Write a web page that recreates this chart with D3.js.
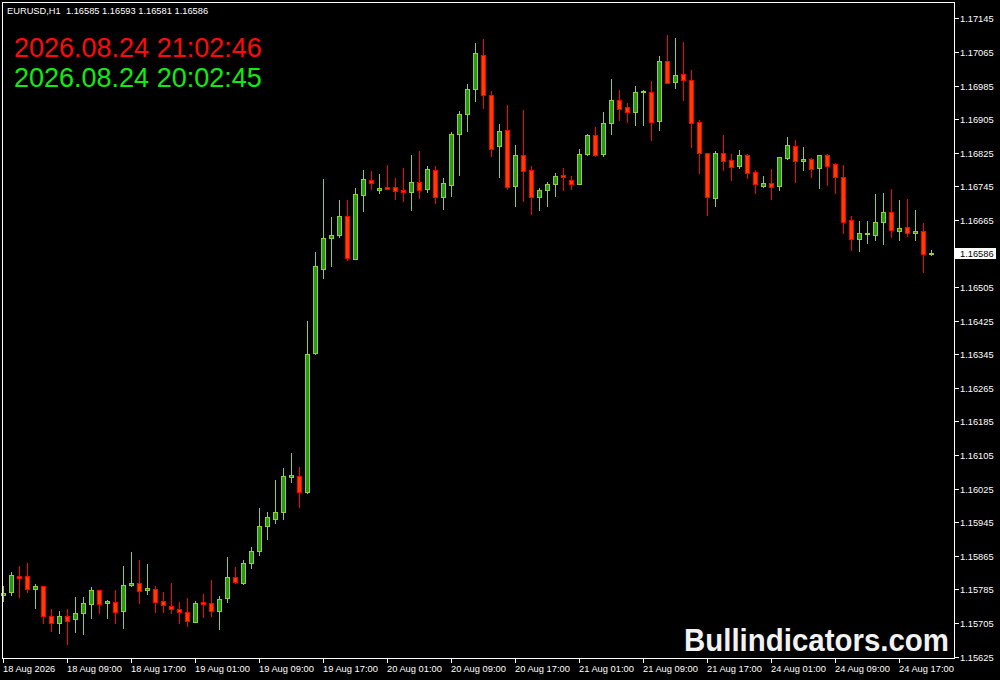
<!DOCTYPE html>
<html><head><meta charset="utf-8">
<script src="https://cdn.jsdelivr.net/npm/d3@7/dist/d3.min.js"></script>
<style>html,body{margin:0;padding:0;background:#000;overflow:hidden}svg{display:block}</style>
</head><body><svg id="c" width="1000" height="680"></svg>
<script>
// ---- data ----
const symbolLabel = "EURUSD,H1";
const headerValues = ["1.16585", "1.16593", "1.16581", "1.16586"];
const clockLines = ["2026.08.24 21:02:46", "2026.08.24 20:02:45"];
const watermark = "Bullindicators.com";
const bidPrice = 1.16586;
const xTickLabels = ["18 Aug 2026","18 Aug 09:00","18 Aug 17:00","19 Aug 01:00","19 Aug 09:00","19 Aug 17:00","20 Aug 01:00","20 Aug 09:00","20 Aug 17:00","21 Aug 01:00","21 Aug 09:00","21 Aug 17:00","24 Aug 01:00","24 Aug 09:00","24 Aug 17:00"];
const barsPerLabel = 8;
const yTickValues = [1.17145,1.17065,1.16985,1.16905,1.16825,1.16745,1.16665,1.16505,1.16425,1.16345,1.16265,1.16185,1.16105,1.16025,1.15945,1.15865,1.15785,1.15705,1.15625];
const opens = [1.15771,1.15778,1.15817,1.15817,1.15785,1.15793,1.15721,1.15705,1.15721,1.15714,1.15728,1.15750,1.15783,1.15752,1.15755,1.15733,1.15795,1.15800,1.15783,1.15785,1.15757,1.15745,1.15738,1.15731,1.15707,1.15755,1.15752,1.15733,1.15764,1.15814,1.15801,1.15847,1.15876,1.15935,1.15954,1.15970,1.16054,1.16055,1.16018,1.16348,1.16549,1.16623,1.16630,1.16674,1.16573,1.16725,1.16761,1.16735,1.16743,1.16743,1.16736,1.16732,1.16755,1.16739,1.16785,1.16719,1.16749,1.16869,1.16916,1.16976,1.17057,1.16962,1.16840,1.16878,1.16745,1.16819,1.16783,1.16720,1.16735,1.16750,1.16771,1.16759,1.16750,1.16823,1.16866,1.16823,1.16895,1.16950,1.16933,1.16921,1.16969,1.16969,1.16900,1.17043,1.16993,1.17012,1.16997,1.16898,1.16824,1.16718,1.16824,1.16807,1.16794,1.16820,1.16778,1.16746,1.16754,1.16746,1.16813,1.16841,1.16806,1.16809,1.16789,1.16820,1.16798,1.16766,1.16664,1.16620,1.16632,1.16630,1.16659,1.16683,1.16639,1.16647,1.16635,1.16639,1.16585];
const highs = [1.15793,1.15827,1.15841,1.15848,1.15797,1.15793,1.15739,1.15734,1.15739,1.15767,1.15767,1.15791,1.15783,1.15760,1.15784,1.15841,1.15874,1.15855,1.15846,1.15793,1.15780,1.15801,1.15755,1.15765,1.15757,1.15774,1.15808,1.15770,1.15862,1.15839,1.15855,1.15886,1.15979,1.15970,1.16046,1.16074,1.16110,1.16077,1.16424,1.16588,1.16762,1.16672,1.16712,1.16712,1.16741,1.16783,1.16781,1.16774,1.16795,1.16764,1.16788,1.16820,1.16829,1.16793,1.16793,1.16765,1.16874,1.16924,1.16989,1.17086,1.17096,1.16972,1.16893,1.16939,1.16843,1.16927,1.16793,1.16741,1.16755,1.16777,1.16789,1.16770,1.16834,1.16870,1.16886,1.16922,1.17001,1.16975,1.16943,1.16984,1.16974,1.16996,1.17055,1.17105,1.17098,1.17089,1.17022,1.16903,1.16824,1.16829,1.16867,1.16822,1.16831,1.16821,1.16784,1.16770,1.16786,1.16814,1.16862,1.16855,1.16839,1.16812,1.16820,1.16822,1.16801,1.16796,1.16674,1.16662,1.16662,1.16727,1.16729,1.16739,1.16712,1.16714,1.16689,1.16658,1.16593];
const lows = [1.15758,1.15773,1.15766,1.15778,1.15742,1.15706,1.15687,1.15682,1.15656,1.15685,1.15680,1.15716,1.15728,1.15716,1.15706,1.15694,1.15794,1.15754,1.15775,1.15732,1.15732,1.15730,1.15706,1.15697,1.15707,1.15720,1.15723,1.15690,1.15755,1.15800,1.15797,1.15836,1.15868,1.15906,1.15944,1.15953,1.16042,1.15982,1.16014,1.16346,1.16527,1.16556,1.16625,1.16569,1.16573,1.16687,1.16738,1.16729,1.16739,1.16715,1.16710,1.16689,1.16718,1.16732,1.16706,1.16692,1.16723,1.16773,1.16877,1.16947,1.16932,1.16816,1.16768,1.16739,1.16697,1.16711,1.16680,1.16689,1.16697,1.16723,1.16735,1.16739,1.16750,1.16820,1.16818,1.16818,1.16870,1.16904,1.16899,1.16892,1.16892,1.16856,1.16880,1.16990,1.16980,1.16951,1.16839,1.16776,1.16677,1.16698,1.16784,1.16760,1.16789,1.16765,1.16730,1.16744,1.16715,1.16736,1.16811,1.16755,1.16784,1.16767,1.16741,1.16748,1.16729,1.16635,1.16593,1.16591,1.16610,1.16617,1.16608,1.16624,1.16617,1.16627,1.16617,1.16541,1.16581];
const closes = [1.15777,1.15820,1.15813,1.15785,1.15793,1.15723,1.15705,1.15721,1.15711,1.15728,1.15752,1.15783,1.15750,1.15757,1.15731,1.15795,1.15800,1.15782,1.15788,1.15755,1.15747,1.15738,1.15731,1.15709,1.15752,1.15750,1.15733,1.15762,1.15814,1.15802,1.15847,1.15876,1.15935,1.15957,1.15969,1.16055,1.16058,1.16018,1.16345,1.16555,1.16623,1.16629,1.16674,1.16575,1.16726,1.16762,1.16752,1.16741,1.16739,1.16733,1.16732,1.16755,1.16737,1.16786,1.16719,1.16752,1.16869,1.16916,1.16976,1.17062,1.16962,1.16835,1.16876,1.16743,1.16819,1.16781,1.16720,1.16735,1.16750,1.16769,1.16766,1.16750,1.16821,1.16866,1.16820,1.16895,1.16950,1.16930,1.16921,1.16969,1.16972,1.16897,1.17043,1.16990,1.17009,1.16997,1.16895,1.16824,1.16720,1.16824,1.16806,1.16792,1.16820,1.16777,1.16750,1.16754,1.16744,1.16814,1.16843,1.16806,1.16809,1.16787,1.16820,1.16794,1.16766,1.16661,1.16620,1.16633,1.16635,1.16660,1.16683,1.16642,1.16645,1.16635,1.16639,1.16585,1.16586];

// ---- styles ----
const C = {
  bg: "#000000", frame: "#ffffff", text: "#ffffff",
  upFill: "#249a1e", upLine: "#9acd32",
  dnFill: "#ff3f00", dnLine: "#ff0000",
  clock1: "#ff0a0a", clock2: "#10ec10"
};
const FONT = "'Liberation Sans', Arial, sans-serif";
const plot = {left: 2, right: 954, top: 2, bottom: 658};

const svg = d3.select("#c");
svg.append("rect").attr("width", 1000).attr("height", 680).attr("fill", C.bg);

const n = opens.length;
const x = d3.scaleLinear().domain([0, n - 1]).range([3, 3 + 8 * (n - 1)]);
const y = d3.scaleLinear().domain([1.15625, 1.17145]).range([656.7, 18.3]);

svg.append("defs").append("clipPath").attr("id", "clip")
  .append("rect").attr("x", 0).attr("y", plot.top + 1)
  .attr("width", plot.right).attr("height", plot.bottom - plot.top - 1);

const bars = d3.range(n).map(i => ({i, o: opens[i], h: highs[i], l: lows[i], c: closes[i]}));
const g = svg.append("g").attr("clip-path", "url(#clip)").attr("shape-rendering", "crispEdges");

const cg = g.selectAll("g.candle").data(bars).join("g").attr("class", "candle");
cg.each(function(d) {
  const s = d3.select(this);
  const up = d.c >= d.o;
  const cx = Math.round(x(d.i));
  const yh = Math.round(y(d.h)), yl = Math.round(y(d.l));
  s.append("line").attr("x1", cx + 0.5).attr("x2", cx + 0.5)
    .attr("y1", yh).attr("y2", yl + 1)
    .attr("stroke", up ? C.upLine : C.dnLine).attr("stroke-width", 1);
  const yt = Math.round(y(Math.max(d.o, d.c))), yb = Math.round(y(Math.min(d.o, d.c)));
  if (yb - yt < 1) {
    s.append("line").attr("x1", cx - 2).attr("x2", cx + 3)
      .attr("y1", yt + 0.5).attr("y2", yt + 0.5)
      .attr("stroke", up ? C.upLine : C.dnLine).attr("stroke-width", 1);
  } else {
    s.append("rect").attr("x", cx - 1.5).attr("y", yt + 0.5)
      .attr("width", 4).attr("height", yb - yt)
      .attr("fill", up ? C.upFill : C.dnFill)
      .attr("stroke", up ? C.upLine : C.dnLine).attr("stroke-width", 1);
  }
});

// ---- frame ----
const fg = svg.append("g").attr("shape-rendering", "crispEdges").attr("stroke", C.frame).attr("stroke-width", 1);
fg.append("line").attr("x1", plot.left + 0.5).attr("x2", plot.left + 0.5).attr("y1", plot.top).attr("y2", plot.bottom + 1);
fg.append("line").attr("x1", plot.right + 0.5).attr("x2", plot.right + 0.5).attr("y1", plot.top).attr("y2", plot.bottom + 1);
fg.append("line").attr("x1", plot.left).attr("x2", plot.right + 1).attr("y1", plot.top + 0.5).attr("y2", plot.top + 0.5);
fg.append("line").attr("x1", plot.left).attr("x2", plot.right + 1).attr("y1", plot.bottom + 0.5).attr("y2", plot.bottom + 0.5);

// ---- y axis ----
const ya = svg.append("g");
yTickValues.forEach(v => {
  const yy = Math.round(y(v));
  ya.append("line").attr("shape-rendering", "crispEdges")
    .attr("x1", plot.right + 1).attr("x2", plot.right + 5)
    .attr("y1", yy + 0.5).attr("y2", yy + 0.5).attr("stroke", C.frame);
  ya.append("text").attr("x", 960).attr("y", yy + 3.8)
    .attr("font-family", FONT).attr("font-size", 9.3).attr("fill", C.text)
    .text(v.toFixed(5));
});
// bid label
const by = Math.round(y(bidPrice));
ya.append("rect").attr("x", 955).attr("y", by - 5).attr("width", 41).attr("height", 11)
  .attr("fill", "#ffffff").attr("shape-rendering", "crispEdges");
ya.append("text").attr("x", 960).attr("y", by + 3.8)
  .attr("font-family", FONT).attr("font-size", 9.3).attr("fill", "#000000")
  .text(bidPrice.toFixed(5));

// ---- x axis ----
const xa = svg.append("g");
xTickLabels.forEach((lab, k) => {
  const xx = Math.round(x(k * barsPerLabel));
  xa.append("line").attr("shape-rendering", "crispEdges")
    .attr("x1", xx + 0.5).attr("x2", xx + 0.5)
    .attr("y1", plot.bottom + 1).attr("y2", plot.bottom + 5).attr("stroke", C.frame);
  xa.append("text").attr("x", xx).attr("y", 671.5)
    .attr("font-family", FONT).attr("font-size", 9.3).attr("fill", C.text)
    .text(lab);
});

// ---- header & overlays ----
svg.append("text").attr("x", 7).attr("y", 14.3)
  .attr("font-family", FONT).attr("font-size", 9.3).attr("fill", C.text)
  .style("white-space", "pre")
  .text(symbolLabel + "  " + headerValues.join(" "));

svg.append("text").attr("x", 14).attr("y", 57)
  .attr("font-family", FONT).attr("font-size", 27).attr("fill", C.clock1)
  .text(clockLines[0]);
svg.append("text").attr("x", 14).attr("y", 87)
  .attr("font-family", FONT).attr("font-size", 27).attr("fill", C.clock2)
  .text(clockLines[1]);

svg.append("text").attr("x", 684).attr("y", 651)
  .attr("font-family", FONT).attr("font-size", 31).attr("font-weight", "bold")
  .attr("fill", "#f2f2f2").attr("textLength", 265).attr("lengthAdjust", "spacingAndGlyphs")
  .text(watermark);
</script></body></html>
